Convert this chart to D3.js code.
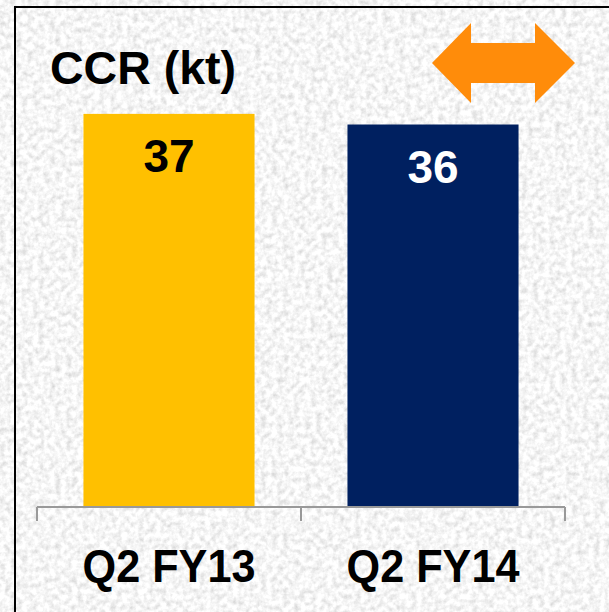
<!DOCTYPE html>
<html>
<head>
<meta charset="utf-8">
<script src="https://cdn.jsdelivr.net/npm/d3@7"></script>
<style>
  html, body { margin: 0; padding: 0; overflow: hidden; }
  svg { display: block; }
  .label { font-family: "Liberation Sans", Arial, sans-serif; font-weight: bold; }
</style>
</head>
<body>
<div id="chart"></div>
<script>
// data
var categories = ["Q2 FY13", "Q2 FY14"];
var values = [37, 36];
var barColors = ["#FFC000", "#002060"];
var valueColors = ["#000000", "#FFFFFF"];
var title = "CCR (kt)";

var width = 609, height = 612;

var svg = d3.select("#chart")
    .append("svg")
    .attr("width", width)
    .attr("height", height);

// granite-like background texture
var defs = svg.append("defs");
var filter = defs.append("filter")
    .attr("id", "granite")
    .attr("x", 0).attr("y", 0)
    .attr("width", "100%").attr("height", "100%");
filter.append("feTurbulence")
    .attr("type", "fractalNoise")
    .attr("baseFrequency", "0.18")
    .attr("numOctaves", 3)
    .attr("seed", 4)
    .attr("result", "noise");
filter.append("feColorMatrix")
    .attr("in", "noise")
    .attr("type", "matrix")
    .attr("values",
        "0.6 0 0 0 0.62 " +
        "0.6 0 0 0 0.62 " +
        "0.6 0 0 0 0.62 " +
        "0 0 0 0 1");

svg.append("rect")
    .attr("width", width)
    .attr("height", height)
    .attr("fill", "#e6e6e6")
    .attr("filter", "url(#granite)");

// frame lines (top and left)
svg.append("line")
    .attr("x1", 14).attr("x2", width)
    .attr("y1", 7).attr("y2", 7)
    .attr("stroke", "#000").attr("stroke-width", 2);
svg.append("line")
    .attr("x1", 15).attr("x2", 15)
    .attr("y1", 6).attr("y2", height)
    .attr("stroke", "#000").attr("stroke-width", 2);

// scales
var xScale = d3.scaleBand()
    .domain(categories)
    .range([37, 565])
    .padding(0);

var yScale = d3.scaleLinear()
    .domain([0, 40])
    .range([507, 82]);

var barWidth = xScale.bandwidth() * 0.648;

// bars
var bar = svg.selectAll("g.bar")
    .data(values)
    .enter().append("g")
    .attr("class", "bar")
    .attr("transform", function(d, i) {
        return "translate(" + (xScale(categories[i]) + xScale.bandwidth() / 2) + ",0)";
    });

bar.append("rect")
    .attr("x", -barWidth / 2)
    .attr("y", function(d) { return yScale(d); })
    .attr("width", barWidth)
    .attr("height", function(d) { return yScale(0) - yScale(d) + 1; })
    .attr("fill", function(d, i) { return barColors[i]; });

bar.append("text")
    .classed("label", true)
    .attr("y", function(d) { return yScale(d) + 58; })
    .attr("text-anchor", "middle")
    .style("font-size", "46px")
    .attr("fill", function(d, i) { return valueColors[i]; })
    .text(function(d) { return d; });

// x axis: baseline with ticks at category boundaries
var axis = svg.append("g").attr("class", "xAxis");
var r = xScale.range();
axis.append("line")
    .attr("x1", r[0]).attr("x2", r[1])
    .attr("y1", yScale(0)).attr("y2", yScale(0))
    .attr("stroke", "#999").attr("stroke-width", 2);

var edges = categories.map(function(c) { return xScale(c); }).concat([r[1]]);
axis.selectAll("line.tick")
    .data(edges)
    .enter().append("line")
    .attr("class", "tick")
    .attr("x1", function(d) { return d; })
    .attr("x2", function(d) { return d; })
    .attr("y1", yScale(0))
    .attr("y2", yScale(0) + 14)
    .attr("stroke", "#999").attr("stroke-width", 2);

axis.selectAll("text")
    .data(categories)
    .enter().append("text")
    .classed("label", true)
    .attr("transform", function(d) {
        return "translate(" + (xScale(d) + xScale.bandwidth() / 2) + ",582) scale(0.92,1)";
    })
    .attr("text-anchor", "middle")
    .style("font-size", "47px")
    .attr("fill", "#000")
    .text(function(d) { return d; });

// title
svg.append("text")
    .classed("label", true)
    .attr("x", 50)
    .attr("y", 84)
    .style("font-size", "46.5px")
    .attr("fill", "#000")
    .text(title);

// double-headed arrow
svg.append("path")
    .attr("d", "M432,63 L471,23 L471,43 L535,43 L535,23 L575,63 L535,103 L535,83 L471,83 L471,103 Z")
    .attr("fill", "#FF8C0A");
</script>
</body>
</html>
